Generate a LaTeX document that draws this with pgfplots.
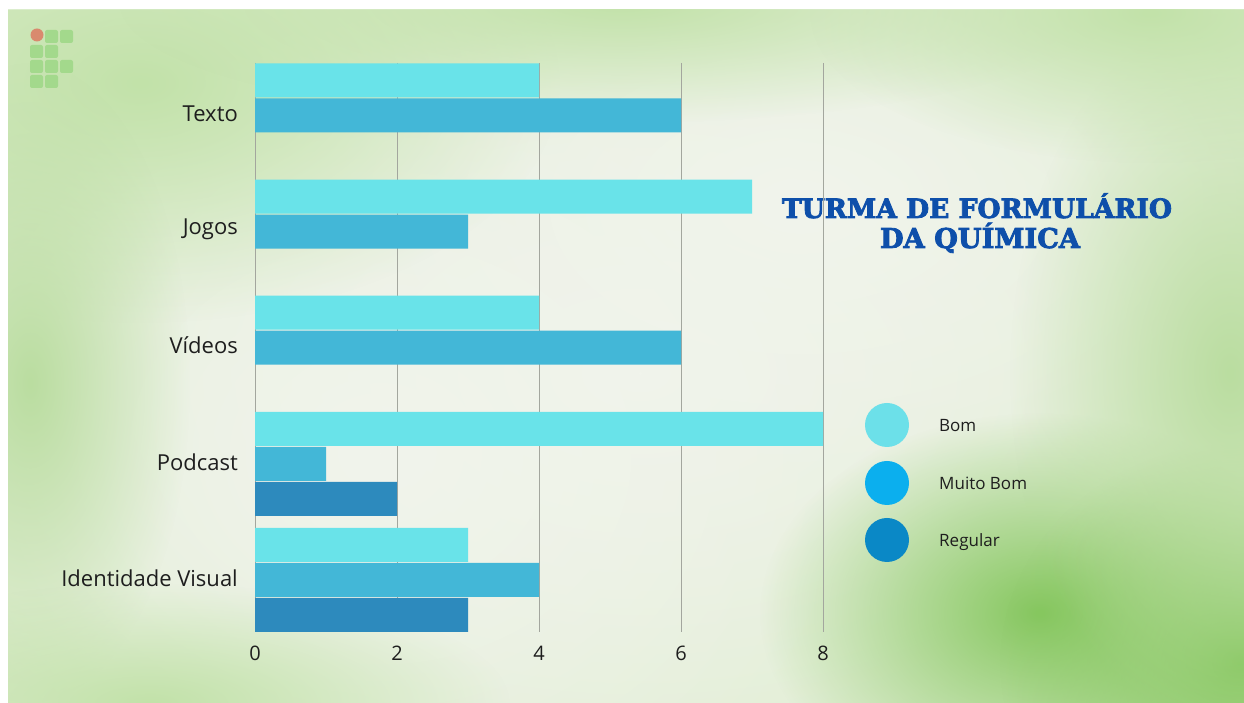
\documentclass[border=0pt]{standalone}
\usepackage{fontspec}
\usepackage{graphicx}
\usepackage{pgfplots}
\usetikzlibrary{fadings}
\pgfplotsset{compat=1.18}
\setmainfont{Open Sans}
\newfontfamily\titlefont{DejaVu Serif}[BoldFeatures={FakeBold=3}]
\tikzfading[name=blob, inner color=transparent!0, outer color=transparent!100]
\definecolor{bomc}{HTML}{69E3E9}
\definecolor{mbc}{HTML}{43B7D7}
\definecolor{regc}{HTML}{2D8ABD}
\definecolor{lbom}{HTML}{6CE0E9}
\definecolor{lmb}{HTML}{0BAFEE}
\definecolor{lreg}{HTML}{0A88C6}
\definecolor{gridc}{HTML}{A3A69E}
\definecolor{labc}{HTML}{1E1E1E}
\definecolor{titc}{HTML}{0E4FAA}
\definecolor{bgc}{HTML}{DDEDCD}
\definecolor{logoc}{HTML}{A3D98C}
\definecolor{logor}{HTML}{D98A6E}
\definecolor{gA}{HTML}{86C75F}
\definecolor{gB}{HTML}{BADDA0}
\definecolor{gC}{HTML}{C2E2A9}
\definecolor{wA}{HTML}{F1F4EC}
\begin{document}
\begin{tikzpicture}[x=1pt,y=1pt]
\useasboundingbox (0,0) rectangle (1244,703);
\fill[white] (0,0) rectangle (1244,703);
\begin{scope}
\clip (8,0) rectangle (1244,693);
\fill[bgc] (8,0) rectangle (1244,693);
% whitish areas
\fill[wA, path fading=blob] (640,330) ellipse (900 and 560);
\fill[wA, path fading=blob] (380,250) ellipse (500 and 420);
\fill[wA, path fading=blob] (800,500) ellipse (500 and 300);
% green blobs
\fill[gA, path fading=blob] (1040,90) ellipse (280 and 200);
\fill[gA, path fading=blob] (1240,40) ellipse (240 and 220);
\fill[gB, path fading=blob] (1230,330) ellipse (220 and 360);
\fill[gC, path fading=blob] (140,620) ellipse (420 and 240);
\fill[gB, path fading=blob] (30,320) ellipse (160 and 320);
\fill[gC, path fading=blob] (620,700) ellipse (500 and 120);
\fill[gC, path fading=blob] (1150,690) ellipse (340 and 150);
\fill[gC, path fading=blob] (150,0) ellipse (360 and 120);
\end{scope}
% logo
\fill[logor] (37,668) circle (6.5);
\foreach \x/\y in {45/660,60/660,30/645,45/645,30/630,45/630,60/630,30/615,45/615}
  \fill[logoc, rounded corners=2pt] (\x,\y) rectangle ++(13,13);
% title
\node[anchor=base, inner sep=0pt, text=titc] at (977,485)
  {\resizebox{390pt}{!}{\titlefont\bfseries TURMA DE FORMULÁRIO}};
\node[anchor=base, inner sep=0pt, text=titc] at (980,455)
  {\resizebox{200pt}{!}{\titlefont\bfseries DA QUÍMICA}};
% legend
\fill[lbom] (887,278) circle (22);
\fill[lmb] (887,220) circle (22);
\fill[lreg] (887,163) circle (22);
\begin{scope}[every node/.style={anchor=base west, inner sep=0pt, text=labc, font=\fontsize{17}{20}\selectfont}]
\node at (939,271) {Bom};
\node at (939,213) {Muito Bom};
\node at (939,156) {Regular};
\end{scope}
\begin{axis}[
  at={(255pt,71pt)}, anchor=south west,
  scale only axis, width=568pt, height=569pt,
  xmin=0, xmax=8, ymin=-0.452, ymax=4.449, y dir=reverse,
  xbar, bar width=34pt, bar shift=0pt,
  xtick={0,2,4,6,8}, ytick={0,1,2,3,4},
  yticklabels={Texto,Jogos,Vídeos,Podcast,Identidade Visual},
  xmajorgrids, ymajorgrids=false,
  major grid style={draw=gridc, line width=0.9pt},
  axis line style={draw=none},
  major tick length=0pt,
  /pgf/number format/assume math mode=true,
  yticklabel style={font=\fontsize{22}{26}\selectfont, text=labc, inner sep=0pt, xshift=-17pt, yshift=2pt},
  xticklabel style={font=\fontsize{20}{24}\selectfont, text=labc, inner sep=0pt, yshift=-14pt},
]
\addplot[fill=bomc, draw=none] coordinates {(4,-0.3015) (7,0.6985) (4,1.6985) (8,2.6985) (3,3.6985)};
\addplot[fill=mbc, draw=none] coordinates {(6,0) (3,1) (6,2) (1,3) (4,4)};
\addplot[fill=regc, draw=none] coordinates {(2,3.3015) (3,4.3015)};
\end{axis}
\end{tikzpicture}
\end{document}
